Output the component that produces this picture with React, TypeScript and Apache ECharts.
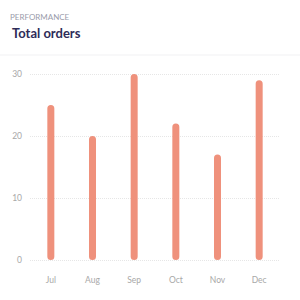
import React, { useEffect, useRef } from "react";
import * as echarts from "echarts";

const categories = ["Jul", "Aug", "Sep", "Oct", "Nov", "Dec"];
const orders = [25, 20, 30, 22, 17, 29];
const subtitle = "PERFORMANCE";
const title = "Total orders";

export default function App() {
  const ref = useRef<HTMLDivElement>(null);
  useEffect(() => {
    document.body.style.margin = "0";
    const chart = echarts.init(ref.current!, null, { renderer: "svg" });
    chart.setOption({
      animation: false,
      backgroundColor: "#ffffff",
      title: [
        {
          text: subtitle,
          left: 10,
          top: 13,
          padding: 0,
          textStyle: { fontFamily: "Lato", fontSize: 8, fontWeight: "normal", color: "#9a9cab" },
        },
        {
          text: title,
          left: 12,
          top: 26,
          padding: 0,
          textStyle: { fontFamily: "Lato", fontSize: 13, fontWeight: "bold", color: "#2e2c58" },
        },
      ],
      graphic: [
        { type: "line", shape: { x1: 0, y1: 55, x2: 300, y2: 55 }, style: { stroke: "#f1f1f3", lineWidth: 1 } },
      ],
      grid: { left: 30, right: 20, top: 74, bottom: 40 },
      xAxis: {
        type: "category",
        data: categories,
        axisLine: { show: false },
        axisTick: { show: false },
        axisLabel: { color: "#a8a8a8", fontFamily: "Lato", fontSize: 8.5, margin: 15 },
      },
      yAxis: {
        type: "value",
        min: 0,
        max: 30,
        interval: 10,
        axisLine: { show: false },
        axisTick: { show: false },
        axisLabel: { color: "#a8a8a8", fontFamily: "Lato", fontSize: 8.5, margin: 8 },
        splitLine: { lineStyle: { type: "dotted", color: "#e6e6e6", width: 1 } },
      },
      series: [
        {
          type: "bar",
          data: orders,
          barWidth: 7,
          itemStyle: { color: "#ef917c", borderRadius: 4 },
        },
      ],
    });
    return () => chart.dispose();
  }, []);
  return <div ref={ref} style={{ position: "absolute", left: 0, top: 0, width: 300, height: 300 }} />;
}
